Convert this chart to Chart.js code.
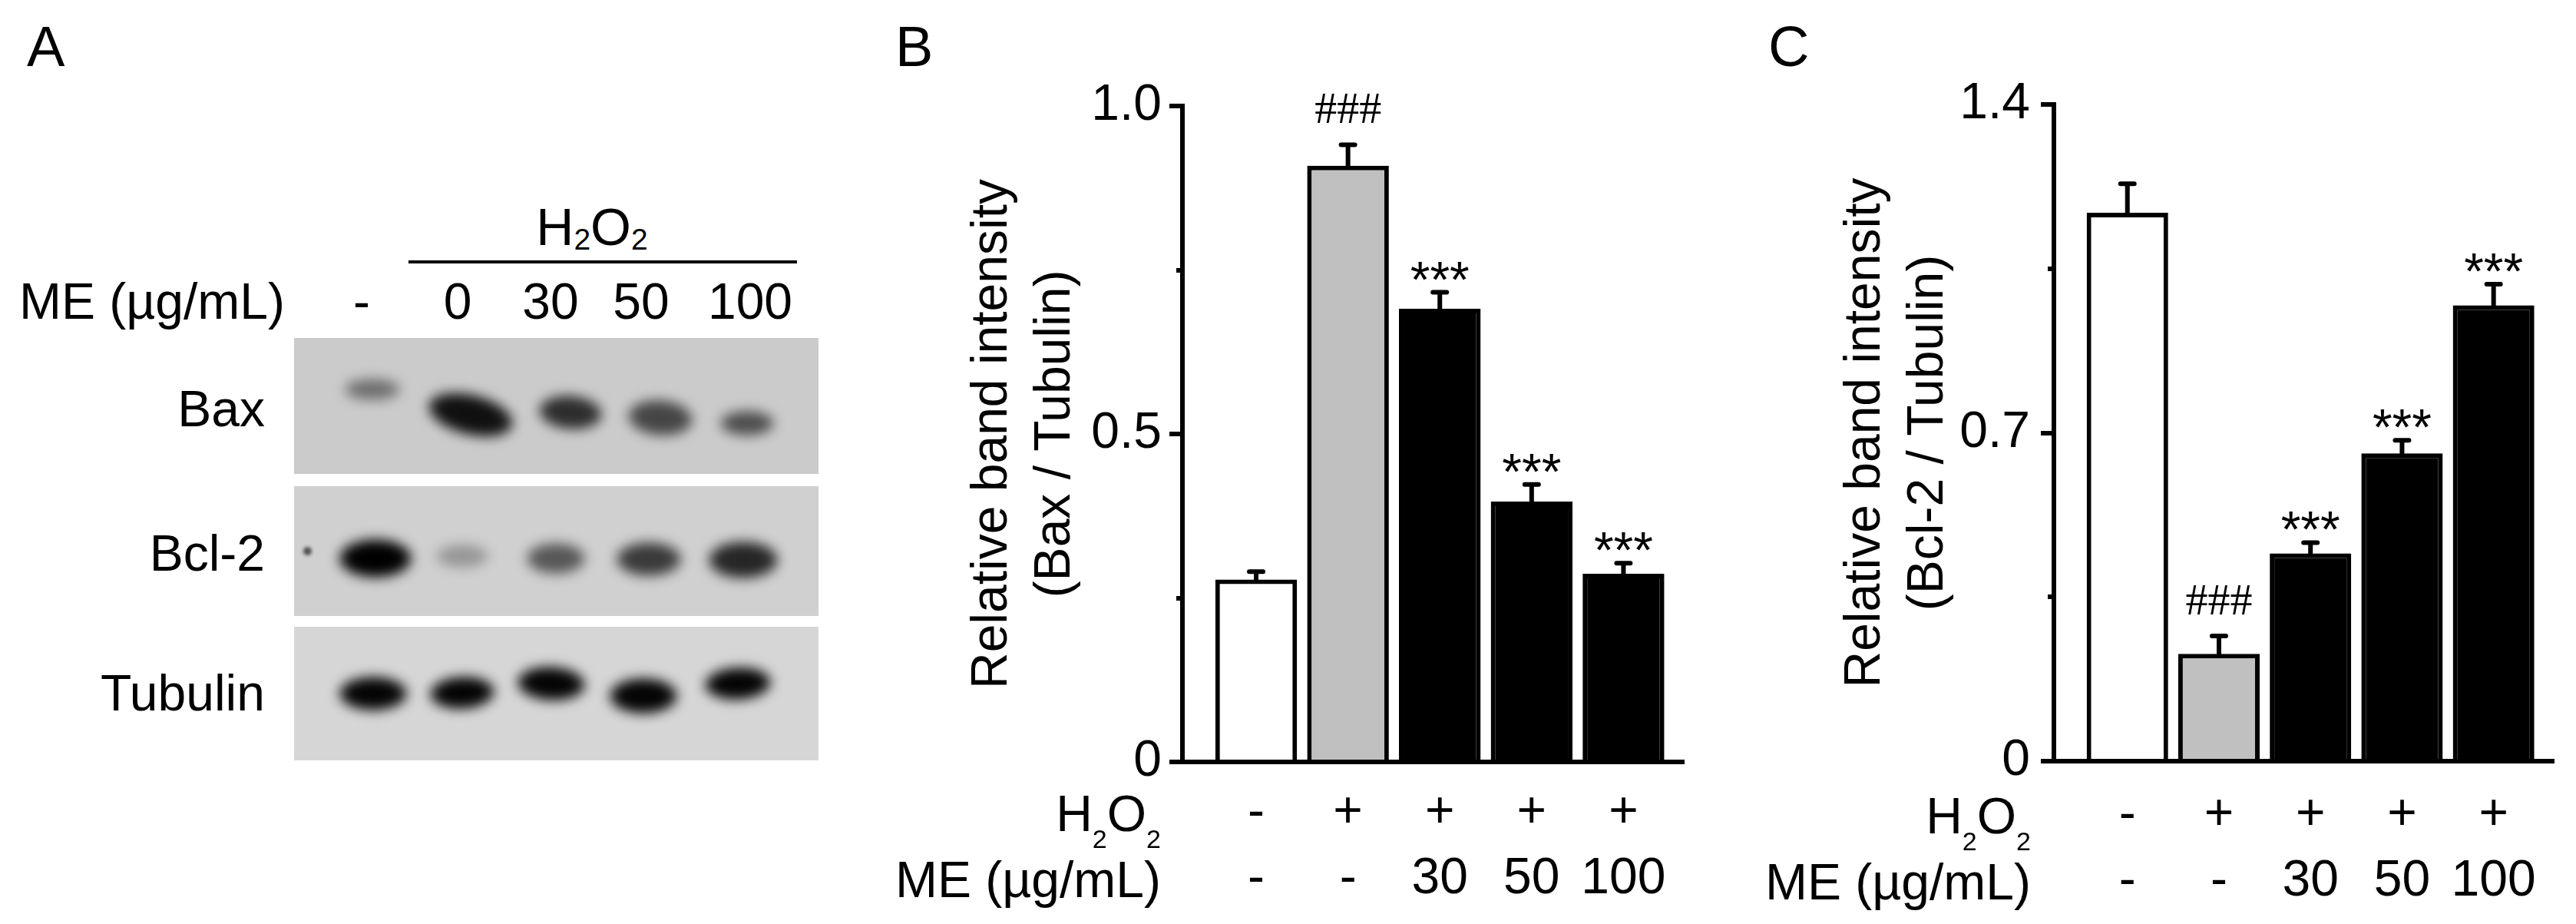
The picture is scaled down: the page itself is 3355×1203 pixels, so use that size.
<!DOCTYPE html>
<html>
<head>
<meta charset="utf-8">
<script src="https://cdn.jsdelivr.net/npm/chart.js@4.4.1/dist/chart.umd.min.js"></script>
<style>
  html, body { margin: 0; padding: 0; background: #fff; }
  #fig { position: relative; width: 3355px; height: 1203px; overflow: hidden; background: #fff;
         font-family: 'Liberation Sans', Arial, sans-serif; color: #000; }
  .t { position: absolute; white-space: nowrap; }
  .sub { position: relative; line-height: 0; }
  canvas { position: absolute; top: 0; }
  .blot { position: absolute; overflow: hidden; }
  .band { position: absolute; border-radius: 50%; }
  .rule { position: absolute; background: #000; }
</style>
</head>
<body>
<div id="fig">
  <canvas id="chartB" width="1150" height="1203" style="left:1100px"></canvas>
  <canvas id="chartC" width="1120" height="1203" style="left:2235px"></canvas>
</div>
<script>
// groups (x axis rows)
const h2o2Row = ['-', '+', '+', '+', '+']
const meRow = ['-', '-', '30', '50', '100']
const groupIdx = [0, 1, 2, 3, 4]

// B: Bax / Tubulin
const baxMean = [0.278, 0.909, 0.691, 0.397, 0.287]
const baxSem = [0.012, 0.032, 0.025, 0.026, 0.016]
const baxMarks = ['', '###', '***', '***', '***']
const baxTicks = [0, 0.5, 1.0]
const baxTickLabels = ['0', '0.5', '1.0']
const baxMinor = [0.25, 0.75]

// C: Bcl-2 / Tubulin
const bcl2Mean = [1.169, 0.229, 0.443, 0.656, 0.972]
const bcl2Sem = [0.062, 0.038, 0.023, 0.028, 0.045]
const bcl2Marks = ['', '###', '***', '***', '***']
const bcl2Ticks = [0, 0.7, 1.4]
const bcl2TickLabels = ['0', '0.7', '1.4']
const bcl2Minor = [0.35, 1.05]

// A: western blot lanes, band darkness 0..1
const laneLabels = ['-', '0', '30', '50', '100']
const baxBands = [0.45, 0.92, 0.78, 0.66, 0.62]
const bcl2Bands = [1.0, 0.28, 0.58, 0.72, 0.82]
const tubBands = [0.98, 0.98, 0.98, 0.98, 0.98]

const BAR_FILL = ['#ffffff', '#c0c0c0', '#000000', '#000000', '#000000']
const FONT = "'Liberation Sans', Arial, sans-serif"
const fig = document.getElementById('fig')

Chart.defaults.font.family = FONT
Chart.defaults.color = '#000'

function addText(html, x, baseline, size, align, family) {
  const el = document.createElement('div')
  el.className = 't'
  el.innerHTML = html
  el.style.fontSize = size + 'px'
  el.style.lineHeight = size + 'px'
  if (family) el.style.fontFamily = family
  el.style.top = (baseline - 0.8465 * size) + 'px'
  el.style.left = x + 'px'
  if (align === 'right') el.style.transform = 'translateX(-100%)'
  if (align === 'center') el.style.transform = 'translateX(-50%)'
  fig.appendChild(el)
  return el
}

function h2o2(subSize, drop) {
  const s = `<span class="sub" style="font-size:${subSize}px;top:${drop}px">2</span>`
  return 'H' + s + 'O' + s
}

// ---------- panel A ----------
addText('A', 35, 87, 74)
addText(h2o2(39, 6), 771, 319, 68, 'center')
const rule = document.createElement('div')
rule.className = 'rule'
rule.style.cssText = 'left:532px;top:339px;width:506px;height:4px'
fig.appendChild(rule)
addText('ME (µg/mL)', 371, 415, 66, 'right')
const laneX = [471, 596, 717, 835, 977]
laneLabels.forEach((l, i) => addText(l, laneX[i], 415, 66, 'center'))

const blotRows = [
  { name: 'Bax', top: 440, h: 177, bg: '#cbcbcb', base: 555, dark: baxBands,
    cx: [485, 613, 743, 860, 973], cy: [507, 540, 537, 544, 551],
    w: [72, 112, 82, 84, 70], bh: [28, 52, 44, 46, 32], rot: [0, 14, 5, 5, 0] },
  { name: 'Bcl-2', top: 633, h: 169, bg: '#d0d0d0', base: 743, dark: bcl2Bands,
    cx: [489, 602, 724, 845, 968], cy: [727, 724, 727, 728, 729],
    w: [94, 68, 76, 84, 90], bh: [50, 30, 40, 44, 48], rot: [0, 0, 0, 0, 0] },
  { name: 'Tubulin', top: 816, h: 174, bg: '#d6d6d6', base: 925, dark: tubBands,
    cx: [486, 602, 718, 838, 961], cy: [903, 902, 890, 906, 890],
    w: [88, 84, 88, 88, 86], bh: [44, 42, 44, 46, 42], rot: [0, -3, 3, 0, -3] },
]

blotRows.forEach(r => {
  const box = document.createElement('div')
  box.className = 'blot'
  box.style.cssText = `left:383px;top:${r.top}px;width:683px;height:${r.h}px;background:${r.bg}`
  fig.appendChild(box)
  r.dark.forEach((d, i) => {
    const b = document.createElement('div')
    b.className = 'band'
    b.style.left = (r.cx[i] - r.w[i] / 2 - 383) + 'px'
    b.style.top = (r.cy[i] - r.bh[i] / 2 - r.top) + 'px'
    b.style.width = r.w[i] + 'px'
    b.style.height = r.bh[i] + 'px'
    b.style.background = `radial-gradient(ellipse at center, rgba(0,0,0,${d}) 0%, rgba(0,0,0,${d}) 45%, rgba(0,0,0,${d * 0.75}) 100%)`
    b.style.filter = 'blur(8px)'
    b.style.transform = `rotate(${r.rot[i]}deg)`
    box.appendChild(b)
  })
  addText(r.name, 345, r.base, 66, 'right')
})
// small speck left of the Bcl-2 lanes
const speck = document.createElement('div')
speck.className = 'band'
speck.style.cssText = 'left:395px;top:712px;width:11px;height:11px;background:rgba(30,30,30,0.7);filter:blur(2px)'
fig.appendChild(speck)

// ---------- panels B and C ----------
const errorBars = {
  id: 'errorBars',
  afterDatasetsDraw(chart, args, opts) {
    const { ctx } = chart
    const y = chart.scales.y
    const ds = chart.data.datasets[0]
    ctx.save()
    ctx.strokeStyle = '#000'
    ctx.fillStyle = '#000'
    ctx.lineWidth = 6
    ctx.lineCap = 'round'
    chart.getDatasetMeta(0).data.forEach((bar, i) => {
      const mean = ds.data[i].y
      const top = y.getPixelForValue(mean + opts.sem[i])
      const base = y.getPixelForValue(mean)
      ctx.beginPath()
      ctx.moveTo(bar.x, base)
      ctx.lineTo(bar.x, top)
      ctx.moveTo(bar.x - 9, top)
      ctx.lineTo(bar.x + 9, top)
      ctx.stroke()
      const m = opts.marks[i]
      if (!m) return
      ctx.textAlign = 'center'
      ctx.textBaseline = 'alphabetic'
      if (m[0] === '#') {
        ctx.font = "58px 'Liberation Serif', 'Times New Roman', serif"
        ctx.fillText(m, bar.x, top - 28)
      } else {
        ctx.font = '66px ' + FONT
        ctx.fillText(m, bar.x, top + 6)
      }
    })
    ctx.restore()
  }
}

function makeChart(id, p) {
  return new Chart(document.getElementById(id), {
    type: 'bar',
    data: {
      datasets: [{
        data: groupIdx.map((x, i) => ({ x, y: p.mean[i] })),
        backgroundColor: BAR_FILL,
        borderColor: '#000',
        borderWidth: 6,
        borderSkipped: 'start',
        barPercentage: 0.89,
        categoryPercentage: 1,
        xAxisID: 'x',
        yAxisID: 'y',
      }],
    },
    options: {
      responsive: false,
      animation: false,
      devicePixelRatio: 1,
      layout: { padding: { left: 0, top: p.top, right: p.right, bottom: 0 } },
      plugins: {
        legend: { display: false },
        tooltip: { enabled: false },
        errorBars: { sem: p.sem, marks: p.marks },
      },
      scales: {
        x: {
          type: 'linear', min: -0.803, max: 4.657, offset: false, z: 1,
          grid: { display: false, drawTicks: false, offset: false },
          border: { display: true, color: '#000', width: 6 },
          afterBuildTicks: s => { s.ticks = groupIdx.map(v => ({ value: v })) },
          afterFit: s => { s.height = p.xHeight },
          ticks: {
            autoSkip: false, maxRotation: 0, minRotation: 0, padding: p.xPad, color: '#000',
            font: { size: 66, lineHeight: 1.303 },
            callback: v => [h2o2Row[v], meRow[v]],
          },
        },
        y: {
          position: 'left', min: 0, max: p.max, weight: 1, z: 1,
          afterBuildTicks: s => { s.ticks = p.ticks.map(v => ({ value: v })) },
          afterFit: s => { s.width = 440 },
          grid: { drawOnChartArea: false, color: '#000', lineWidth: 6, tickLength: 17, tickWidth: 6 },
          border: { color: '#000', width: 6 },
          ticks: { padding: p.yPad, color: '#000', font: { size: 66 }, callback: (v, i) => p.tickLabels[i] },
          title: {
            display: true, text: p.title, color: '#000',
            font: { size: 66, lineHeight: 82 / 66 },
            padding: { top: p.titlePad, bottom: 0 },
          },
        },
        yMinor: {
          position: 'left', min: 0, max: p.max, weight: 0, z: 1,
          afterBuildTicks: s => { s.ticks = p.minor.map(v => ({ value: v })) },
          afterFit: s => { s.width = 0 },
          grid: { drawOnChartArea: false, color: '#000', lineWidth: 6, tickLength: 8, tickWidth: 6 },
          border: { display: false },
          ticks: { display: false },
        },
      },
    },
    plugins: [errorBars],
  })
}

makeChart('chartB', {
  mean: baxMean, sem: baxSem, marks: baxMarks, max: 1.0,
  ticks: baxTicks, tickLabels: baxTickLabels, minor: baxMinor,
  title: ['Relative band intensity', '(Bax / Tubulin)'],
  top: 138, right: 57, xHeight: 211, xPad: 24, yPad: 10, titlePad: 152,
})

makeChart('chartC', {
  mean: bcl2Mean, sem: bcl2Sem, marks: bcl2Marks, max: 1.4,
  ticks: bcl2Ticks, tickLabels: bcl2TickLabels, minor: bcl2Minor,
  title: ['Relative band intensity', '(Bcl-2 / Tubulin)'],
  top: 136, right: 29, xHeight: 212, xPad: 28, yPad: 14, titlePad: 154,
})

addText('B', 1166, 87, 74)
addText('C', 2303, 87, 74)
addText(h2o2(34, 22), 1512, 1082, 66, 'right')
addText('ME (µg/mL)', 1512, 1168, 66, 'right')
addText(h2o2(34, 22), 2645, 1085, 66, 'right')
addText('ME (µg/mL)', 2645, 1171, 66, 'right')
</script>
</body>
</html>
